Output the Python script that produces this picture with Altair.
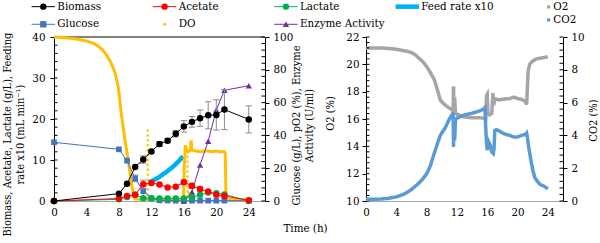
import altair as alt
import pandas as pd

FONT = "DejaVu Serif Condensed, DejaVu Serif"
GREY_ERR = "#8c8c8c"

# ---------------- data ----------------
t_main = [0, 8, 9, 10, 11, 12, 13, 14, 15, 16, 17, 18, 19, 20, 21, 24]
biomass = [0, 1.8, 4.2, 8.3, 10.1, 12.1, 13.9, 14.7, 16.4, 18.2, 19.3, 20.2, 20.9, 21.0, 22.3, 19.9]
biomass_err = [0, 0, 0, 0, 0.9, 0.4, 0.6, 0.5, 0.8, 1.4, 1.3, 2.0, 3.3, 3.7, 4.9, 3.3]
acetate = [0, 0.6, 1.2, 1.5, 4.1, 4.4, 4.0, 3.3, 3.5, 4.6, 3.7, 2.9, 2.3, 1.5, 1.2, 0.2]
acetate_err = [0, 0, 0, 0, 1.0, 0, 0, 0, 0, 0.5, 0.6, 0.5, 0, 0, 0, 0]
lactate = [0, 0.4, 1.0, 1.5, 0.7, 0.65, 0.6, 0.6, 0.6, 0.6, 0.9, 1.5, 2.1, 1.9, 1.6, 0]
glucose = [35.8, 31.5, 24.6, 13.8, 6.0, 1.6, 0.4, 0.3, 0.2, 0.2, 0.2, 0.2, 0.2, 0.2, 0.2, 0.2]
glucose_err = [0, 0, 0, 2.0, 3.5, 0, 0, 0, 0, 0, 0, 0, 0, 0, 0, 0]

t_enzyme = [16, 17, 18, 19, 20, 21, 24]
enzyme = [0, 5.5, 22, 36.5, 55.5, 67.5, 70.3]

t_feed = [11.7, 12, 12.5, 13, 13.5, 14, 14.5, 15, 15.5, 15.9]
feed = [4.5, 4.8, 5.3, 5.9, 6.6, 7.3, 8.1, 9.0, 10.0, 10.9]

t_do = [0, 1, 2, 3, 4, 5, 5.5, 6, 6.5, 7, 7.5, 7.9, 8.0, 8.35, 8.75, 9.2, 9.6, 9.85, 10.0,
        11, 12, 13, 14, 15, 15.95, 16.05, 16.2, 16.35, 16.5, 16.8, 16.9, 17.0, 17.5, 18,
        18.5, 19, 19.5, 20, 20.5, 21, 21.1, 21.2, 22, 23, 23.8]
do_val = [100, 99.7, 99.3, 98.6, 97.6, 95.8, 94.3, 92, 88.8, 84.5, 78.5, 70, 66, 51, 37, 23, 9, 2.5, 1.2,
          1, 1, 1, 1, 1, 1.2, 22, 34, 31, 30, 31, 37, 31, 30.5, 30,
          30.5, 30.5, 30, 30.5, 30, 30, 29, 1, 0.8, 0.8, 0.5]
t_do_pts = [11.55, 11.55, 11.55, 11.55, 11.55, 11.55, 11.55, 11.55, 11.55, 11.55, 11.55, 11.55, 11.55, 11.55,
            16.45, 16.45, 16.45, 16.45, 16.45, 16.45, 16.45, 16.45, 16.45, 16.45,
            16.6, 16.6, 16.6]
do_pts = [43, 40, 37, 34, 31, 28, 25, 22, 19, 16, 13, 10, 7, 4,
          30, 27, 24, 21, 18, 15, 12, 9, 6, 3,
          8, 5, 3]

t_o2 = [0, 1, 2, 3, 4, 5, 5.5, 6, 6.5, 7, 7.5, 8, 8.5, 9, 9.5, 9.8, 10, 10.5, 11, 11.5, 11.55, 11.6,
        11.7, 11.8, 12, 12.5, 13, 14, 15, 15.5, 15.8, 15.9, 16.0, 16.1, 16.3, 16.6, 16.75, 16.85,
        17.0, 17.5, 18, 19, 19.5, 20, 20.5, 21, 21.2, 21.3, 21.4, 21.6, 22, 22.5, 23, 24]
o2 = [21.2, 21.2, 21.2, 21.15, 21.1, 21.0, 20.95, 20.85, 20.7, 20.45, 20.2, 19.85, 19.4, 18.9, 18.0, 17.4,
      17.25, 17.0, 16.8, 16.6, 18.4, 16.5, 17.6, 16.45, 16.35, 16.25, 16.15, 16.1, 16.1, 16.05, 16.0, 17.7,
      17.8, 16.4, 16.3, 16.4, 17.9, 17.0, 17.5, 17.4, 17.45, 17.5, 17.6, 17.5, 17.45, 17.3, 17.05, 18.3,
      19.5, 20.0, 20.25, 20.4, 20.45, 20.55]

t_co2 = [0, 1, 2, 3, 4, 4.5, 5, 5.5, 6, 6.5, 7, 7.5, 8, 8.5, 9, 9.5, 9.8, 10, 10.5, 11, 11.4, 11.5, 11.55,
         11.6, 11.7, 11.8, 12, 12.5, 13, 14, 15, 15.5, 15.7, 15.8, 15.9, 16.0, 16.1, 16.2, 16.4, 16.6,
         16.8, 16.9, 17.0, 17.2, 17.5, 18, 18.5, 19, 19.5, 20, 20.5, 21, 21.2, 21.3, 21.5, 21.8, 22,
         22.3, 22.7, 23, 23.5, 24]
co2 = [0.1, 0.1, 0.12, 0.17, 0.25, 0.33, 0.42, 0.55, 0.7, 0.9, 1.1, 1.35, 1.65, 2.15, 2.9, 3.6, 4.0, 4.15,
       4.5, 5.0, 5.3, 5.4, 3.3, 4.8, 3.7, 4.9, 5.05, 5.15, 5.25, 5.35, 5.5, 5.6, 5.7, 4.5, 3.6, 3.1, 3.4,
       3.6, 3.4, 3.0, 2.9, 3.2, 4.3, 4.35, 4.3, 4.15, 4.05, 4.0, 3.9, 3.9, 4.0, 4.05, 4.15, 3.9, 3.2, 2.4,
       1.9, 1.4, 1.15, 1.0, 0.9, 0.75]

x_ticks = [0, 4, 8, 12, 16, 20, 24]
left_ticks = [0, 10, 20, 30, 40]
left_minor = [0, 2, 4, 6, 8, 10, 12, 14, 16, 18, 20, 22, 24, 26, 28, 30, 32, 34, 36, 38, 40]
right_ticks = [0, 20, 40, 60, 80, 100]
right_minor = [0, 4, 8, 12, 16, 20, 24, 28, 32, 36, 40, 44, 48, 52, 56, 60, 64, 68, 72, 76, 80, 84, 88, 92, 96, 100]
o2_ticks = [10, 12, 14, 16, 18, 20, 22]
o2_minor = [10, 10.4, 10.8, 11.2, 11.6, 12, 12.4, 12.8, 13.2, 13.6, 14, 14.4, 14.8, 15.2, 15.6, 16,
            16.4, 16.8, 17.2, 17.6, 18, 18.4, 18.8, 19.2, 19.6, 20, 20.4, 20.8, 21.2, 21.6, 22]
co2_ticks = [0, 2, 4, 6, 8, 10]
co2_minor = [0, 0.4, 0.8, 1.2, 1.6, 2, 2.4, 2.8, 3.2, 3.6, 4, 4.4, 4.8, 5.2, 5.6, 6, 6.4, 6.8, 7.2,
             7.6, 8, 8.4, 8.8, 9.2, 9.6, 10]

legend_labels = ["Biomass", "Acetate", "Lactate", "Feed rate x10", "Glucose", "DO", "Enzyme Activity"]
legend_colors = ["#000000", "#ff0000", "#00b050", "#00b0f0", "#4472c4", "#ffc000", "#7030a0"]
legend_shapes = ["circle", "circle", "circle", "none", "square", "dot", "triangle-up"]
legend_col = [0, 1, 2, 3, 0, 1, 2]
legend_row = [0, 0, 0, 0, 1, 1, 1]
legend2_labels = ["O2", "CO2"]
legend2_colors = ["#a5a5a5", "#5b9bd5"]

C_BIO, C_ACE, C_LAC, C_FEED, C_GLU, C_DO, C_ENZ = legend_colors
C_O2, C_CO2 = legend2_colors

# ---------------- encodings ----------------
XDOM = [0, 26]


def make_x(title=None, **title_kw):
    def f(field):
        return alt.X(f"{field}:Q", scale=alt.Scale(domain=XDOM, nice=False, zero=False),
                     axis=alt.Axis(values=x_ticks, title=title, ticks=False, grid=False,
                                   domainColor="#a6a6a6", labelPadding=5, labelFlush=False, **title_kw))
    return f


XL = make_x()
XR = make_x("Time (h)", titleX=-61, titleY=21, titleBaseline="top", titleAlign="center", titleFontSize=11.5)


def X2(field):
    return alt.X2(f"{field}:Q")


LEFT_AX = alt.Axis(orient="left", values=left_ticks, tickSize=4, labelPadding=5, grid=False,
                   labelFlush=False, titleAngle=270, titleBaseline="bottom", titleX=-42, titleY=97,
                   title=["Biomass, Acetate, Lactate (g/L), Feeding",
                          "\u00a0" * 23 + "rate x10 (mL min\u207b\u00b9)"])
RIGHT_AX = alt.Axis(orient="right", values=right_ticks, tickSize=4, labelPadding=4, grid=False,
                    labelFlush=False, titleAngle=270, titleBaseline="top", titleX=25, titleY=88,
                    title=["Glucose (g/L), pO2 (%), Enzyme", "Activity (U/ml)"])
O2_AX = alt.Axis(orient="left", values=o2_ticks, tickSize=4, labelPadding=3, grid=False,
                 labelFlush=False, titleAngle=270, titleBaseline="bottom", titleX=-31, titleY=76,
                 title="O2 (%)")
CO2_AX = alt.Axis(orient="right", values=co2_ticks, tickSize=4, labelPadding=4, grid=False,
                  labelFlush=False, titleAngle=270, titleBaseline="top", titleX=24, titleY=83,
                  title="CO2 (%)")


def make_y(domain, axis):
    def f(field):
        return alt.Y(f"{field}:Q", scale=alt.Scale(domain=domain, nice=False, zero=False), axis=axis)
    return f


YL = make_y([0, 40], LEFT_AX)
YL0 = make_y([0, 40], None)
YR = make_y([0, 100], RIGHT_AX)
YO2 = make_y([10, 22], O2_AX)
YCO2 = make_y([0, 10], CO2_AX)


def series(ts, vs, color, shape, yf, size=40, X=XL):
    df = pd.DataFrame({"t": ts, "v": vs})
    base = alt.Chart(df).encode(x=X("t"), y=yf("v"))
    return [base.mark_line(color=color, strokeWidth=1),
            base.mark_point(shape=shape, filled=True, size=size, color=color, opacity=1, strokeWidth=0)]


def errbars(ts, vs, es, yf, half=0.4, X=XL):
    rows = [(t, v - e, v + e, t - half, t + half) for t, v, e in zip(ts, vs, es) if e > 0]
    df = pd.DataFrame(rows, columns=["t", "lo", "hi", "cl", "cr"])
    base = alt.Chart(df).mark_rule(color=GREY_ERR, strokeWidth=1)
    return [base.encode(x=X("t"), y=yf("lo"), y2=alt.Y2("hi:Q")),
            base.encode(x=X("cl"), x2=X2("cr"), y=yf("lo")),
            base.encode(x=X("cl"), x2=X2("cr"), y=yf("hi"))]


def inward_ticks(values, yf, x0, x1, X=XL):
    df = pd.DataFrame({"v": values, "a": x0, "b": x1})
    return alt.Chart(df).mark_rule(color="black", strokeWidth=1).encode(x=X("a"), x2=X2("b"), y=yf("v"))


# ---------------- left panel ----------------
feed_df = pd.DataFrame({"t": t_feed, "v": feed})
feed_line = alt.Chart(feed_df).mark_line(color=C_FEED, strokeWidth=4.5).encode(x=XL("t"), y=YL0("v"))
border = alt.Chart(pd.DataFrame({"a": [0], "b": [26], "v": [40]})).mark_rule(
    color="black", strokeWidth=1).encode(x=XL("a"), x2=X2("b"), y=YL0("v"))
child1 = alt.layer(feed_line, border, inward_ticks(left_minor, YL0, 0, 0.43))

do_df = pd.DataFrame({"t": t_do, "v": do_val})
do_line = alt.Chart(do_df).mark_line(color=C_DO, strokeWidth=3).encode(x=XL("t"), y=YR("v"))
do_sc = alt.Chart(pd.DataFrame({"t": t_do_pts, "v": do_pts})).mark_circle(
    color=C_DO, size=6, opacity=1).encode(x=XL("t"), y=YR("v"))
child2 = alt.layer(
    do_line, do_sc,
    *errbars(t_main, glucose, glucose_err, YR),
    *series(t_main, glucose, C_GLU, "square", YR, size=32),
    *series(t_enzyme, enzyme, C_ENZ, "triangle-up", YR, size=40),
    inward_ticks(right_minor, YR, 25.57, 26),
)

# legend (placed in left-scale units above the plot)
LX0, LDX, LY0, LDY = -1.32, 14.95, 47.4, 4.3
leg = pd.DataFrame({"label": legend_labels, "color": legend_colors, "shape": legend_shapes,
                    "col": legend_col, "row": legend_row})
leg["cx"] = LX0 + LDX * leg["col"]
leg["ly"] = LY0 - LDY * leg["row"]
leg["x1"] = leg["cx"] - 1.44
leg["x2"] = leg["cx"] + 1.44
leg["tx"] = leg["cx"] + 1.73
thin = leg[leg["shape"].isin(["circle", "square", "triangle-up"])]
leg_lines = alt.Chart(thin).mark_rule(strokeWidth=1).encode(
    x=XL("x1"), x2=X2("x2"), y=YL("ly"), color=alt.Color("color:N", scale=None))
leg_feed = alt.Chart(leg[leg["shape"] == "none"]).mark_rule(strokeWidth=4.5).encode(
    x=XL("x1"), x2=X2("x2"), y=YL("ly"), color=alt.Color("color:N", scale=None))
leg_pts = alt.Chart(thin).mark_point(filled=True, size=40, opacity=1, strokeWidth=0).encode(
    x=XL("cx"), y=YL("ly"), color=alt.Color("color:N", scale=None),
    shape=alt.Shape("shape:N", scale=None))
leg_dot = alt.Chart(leg[leg["shape"] == "dot"]).mark_circle(size=9, opacity=1).encode(
    x=XL("cx"), y=YL("ly"), color=alt.Color("color:N", scale=None))
leg_text = alt.Chart(leg).mark_text(align="left", baseline="middle", font=FONT, fontSize=11.5,
                                    color="black").encode(x=XL("tx"), y=YL("ly"), text="label:N")

child3 = alt.layer(
    *series(t_main, lactate, C_LAC, "circle", YL, size=42),
    *errbars(t_main, acetate, acetate_err, YL),
    *series(t_main, acetate, C_ACE, "circle", YL, size=42),
    *errbars(t_main, biomass, biomass_err, YL),
    *series(t_main, biomass, C_BIO, "circle", YL, size=42),
    leg_lines, leg_feed, leg_pts, leg_dot, leg_text,
)

left = alt.layer(child1, child2, child3).resolve_scale(y="independent").properties(width=211, height=164)

# ---------------- right panel ----------------
o2_line = alt.Chart(pd.DataFrame({"t": t_o2, "v": o2})).mark_line(
    color=C_O2, strokeWidth=3.5).encode(x=XR("t"), y=YO2("v"))
co2_line = alt.Chart(pd.DataFrame({"t": t_co2, "v": co2})).mark_line(
    color=C_CO2, strokeWidth=3.5).encode(x=XR("t"), y=YCO2("v"))

leg2 = pd.DataFrame({"label": legend2_labels, "color": legend2_colors, "row": [0, 1]})
leg2["ly"] = 24.2 - 0.95 * leg2["row"]
leg2["cx"] = 24.1
leg2["tx"] = 24.72
leg2_pts = alt.Chart(leg2).mark_square(size=10, opacity=1).encode(
    x=XR("cx"), y=YO2("ly"), color=alt.Color("color:N", scale=None))
leg2_text = alt.Chart(leg2).mark_text(align="left", baseline="middle", font=FONT, fontSize=11.5,
                                      color="black").encode(x=XR("tx"), y=YO2("ly"), text="label:N")

childA = alt.layer(o2_line, inward_ticks(o2_minor, YO2, 0, 0.46, X=XR), leg2_pts, leg2_text)
childB = alt.layer(co2_line, inward_ticks(co2_minor, YCO2, 25.54, 26, X=XR))
right = alt.layer(childA, childB).resolve_scale(y="independent").properties(width=197, height=164)

chart = alt.hconcat(left, right, spacing=101, bounds="flush").properties(
    padding={"left": 0, "top": 0, "right": 0, "bottom": 0},
).configure_view(stroke=None).configure_axis(
    labelFont=FONT, titleFont=FONT, labelFontSize=11.5, titleFontSize=11, titleFontWeight="normal",
    labelColor="black", titleColor="black", domainColor="black", tickColor="black",
    domainWidth=1, tickWidth=1,
)

chart.save("out.html", embed_options={"renderer": "svg", "actions": False})
